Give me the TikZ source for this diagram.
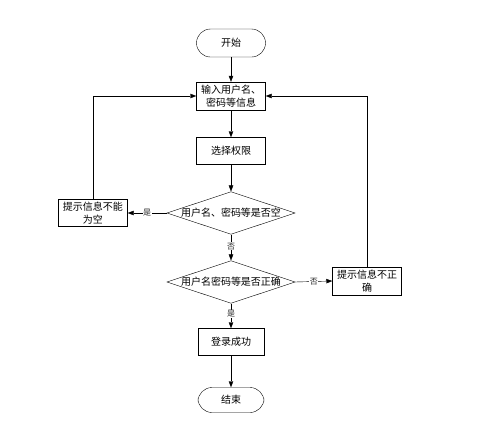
\documentclass[tikz,border=0pt]{standalone}
\usepackage{fontspec}
\setmainfont{Noto Sans CJK SC}
\usetikzlibrary{arrows.meta,shapes.geometric}
\tikzset{bx/.append style={draw,minimum width=69pt,minimum height=28pt,inner sep=1pt,align=center,font=\fontsize{10}{13}\selectfont}}
\tikzset{rb/.append style={bx,rounded corners=14pt}}
\tikzset{dm/.append style={draw,diamond,aspect=3.0,inner sep=0pt,font=\fontsize{10}{12}\selectfont}}
\tikzset{ar/.append style={-{Triangle[length=6pt,width=4.5pt]}}}
\tikzset{lb/.append style={fill=white,inner sep=0.5pt,font=\fontsize{8}{8}\selectfont,text=black!85}}

\begin{document}
\begin{tikzpicture}[x=1pt,y=-1pt]
                \useasboundingbox (0,0) rectangle (499,421);
                % nodes
                \node[rb] (start) at (231,43) {开始};
                \node[bx] (input) at (231,96) {输入用户名、\\密码等信息};
                \node[bx,minimum height=27pt] (sel) at (231,151) {选择权限};
                \node[dm] (chk1) at (231,213) {用户名、密码等是否空};
                \node[bx,minimum height=27pt] (warn1) at (93,213) {提示信息不能\\为空};
                \node[dm] (chk2) at (231,282) {用户名密码等是否正确};
                \node[bx] (warn2) at (367,281) {提示信息不正\\确};
                \node[bx,minimum width=66pt,minimum height=27pt] (ok) at (231,342) {登录成功};
                \node[rb,minimum width=66pt,minimum height=25pt] (stop) at (231,400) {结束};
                % connectors
                \draw[ar] (start) -- (input);
                \draw[ar] (input) -- (sel);
                \draw[ar] (sel) -- (chk1);
                \path (chk1.west) edge[ar] node[lb,pos=0.5]{是} (warn1.east);
                \path (chk1.south) edge[ar] node[lb,pos=0.45]{否} (chk2.north);
                \path (chk2.east) edge[ar] node[lb,pos=0.5]{否} (warn2.west);
                \path (chk2.south) edge[ar] node[lb,pos=0.42]{是} (ok.north);
                \draw[ar] (ok) -- (stop);
                \draw[ar] (warn1.north) |- (input.west);
                \draw[ar] (warn2.north) |- (input.east);
            \end{tikzpicture}
\end{document}
